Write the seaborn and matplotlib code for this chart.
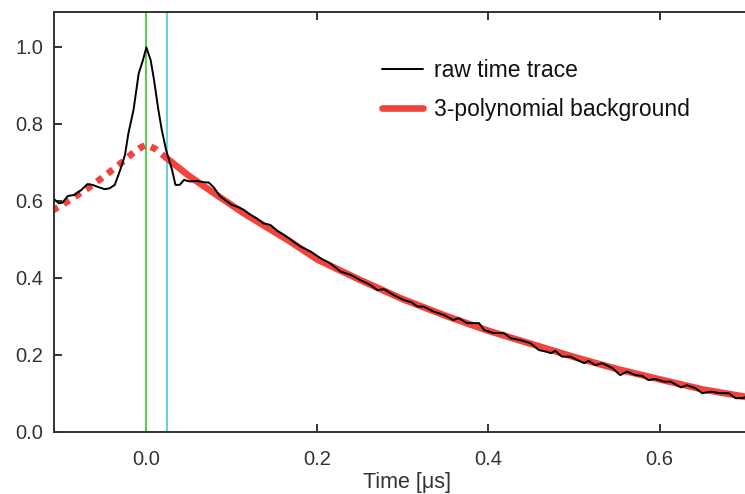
import numpy as np
import pandas as pd
import matplotlib
matplotlib.use('Agg')
import matplotlib.pyplot as plt
import seaborn as sns

# raw time trace (time in us, normalised signal)
trace_t = [-0.108, -0.102, -0.098, -0.092, -0.084, -0.076, -0.069, -0.063, -0.057, -0.049,
           -0.043, -0.037, -0.032, -0.028, -0.025, -0.021, -0.015, -0.009, -0.004, 0.0,
           0.005, 0.009, 0.014, 0.018, 0.023, 0.030, 0.034, 0.039, 0.044, 0.050,
           0.059, 0.067, 0.073, 0.079, 0.086, 0.093, 0.100, 0.108, 0.114, 0.122,
           0.129, 0.137, 0.145, 0.153, 0.161, 0.168, 0.180, 0.192, 0.204, 0.215,
           0.227, 0.239, 0.250, 0.262, 0.270, 0.278, 0.289, 0.301, 0.310, 0.317,
           0.324, 0.336, 0.348, 0.359, 0.365, 0.375, 0.389, 0.395, 0.406, 0.418,
           0.426, 0.437, 0.449, 0.459, 0.467, 0.473, 0.478, 0.486, 0.496, 0.504,
           0.512, 0.517, 0.525, 0.533, 0.545, 0.554, 0.562, 0.572, 0.580, 0.587,
           0.595, 0.605, 0.613, 0.625, 0.632, 0.642, 0.650, 0.660, 0.671, 0.681,
           0.689, 0.697, 0.702]
trace_v = [0.604, 0.593, 0.595, 0.612, 0.615, 0.628, 0.643, 0.641, 0.636, 0.630,
           0.632, 0.641, 0.671, 0.697, 0.719, 0.775, 0.836, 0.930, 0.965, 0.998,
           0.965, 0.913, 0.836, 0.784, 0.732, 0.680, 0.641, 0.641, 0.654, 0.650,
           0.651, 0.648, 0.647, 0.634, 0.612, 0.600, 0.589, 0.583, 0.576, 0.563,
           0.554, 0.541, 0.537, 0.522, 0.511, 0.500, 0.481, 0.468, 0.450, 0.437,
           0.416, 0.407, 0.394, 0.381, 0.368, 0.370, 0.355, 0.342, 0.336, 0.325,
           0.325, 0.312, 0.303, 0.290, 0.295, 0.282, 0.282, 0.264, 0.256, 0.256,
           0.243, 0.238, 0.230, 0.212, 0.208, 0.204, 0.210, 0.195, 0.195, 0.186,
           0.178, 0.184, 0.173, 0.178, 0.165, 0.147, 0.156, 0.147, 0.145, 0.134,
           0.137, 0.130, 0.130, 0.115, 0.121, 0.113, 0.100, 0.104, 0.100, 0.100,
           0.087, 0.087, 0.091]

# 3-polynomial background: dotted part (extrapolated) and solid part (fitted)
bg_dot_t = [-0.110, -0.090, -0.070, -0.050, -0.030, -0.015, -0.005, 0.0, 0.010, 0.024]
bg_dot_v = [0.574, 0.601, 0.630, 0.662, 0.697, 0.725, 0.740, 0.745, 0.735, 0.710]
bg_sol_t = [0.024, 0.050, 0.080, 0.114, 0.168, 0.200, 0.250, 0.300, 0.350, 0.400,
            0.450, 0.500, 0.550, 0.600, 0.650, 0.702]
bg_sol_v = [0.710, 0.664, 0.618, 0.567, 0.494, 0.447, 0.394, 0.344, 0.301, 0.262,
            0.228, 0.194, 0.163, 0.136, 0.110, 0.090]

t_start = 0.0
t_end = 0.024

sns.set_style('white')
plt.rcParams['font.family'] = ['Liberation Sans', 'DejaVu Sans']
ink = '#333333'
red = '#f0443c'

fig = plt.figure(figsize=(7.45, 4.94), dpi=100)
ax = fig.add_axes([54/745, 1-431.7/494, 693/745, 419.7/494])

ax.axvline(t_start, color='#62c956', lw=1.5, zorder=1)
ax.axvline(t_end, color='#6fcbe6', lw=1.5, zorder=1)

dot = pd.DataFrame({'t': bg_dot_t, 'v': bg_dot_v})
sol = pd.DataFrame({'t': bg_sol_t, 'v': bg_sol_v})
raw = pd.DataFrame({'t': trace_t, 'v': trace_v})

sns.lineplot(data=dot, x='t', y='v', color=red, lw=4.8, ls=(0, (1.0, 1.0)),
             estimator=None, sort=False, ax=ax, zorder=2)
sns.lineplot(data=sol, x='t', y='v', color=red, lw=4.8, estimator=None, sort=False,
             ax=ax, zorder=2, label='3-polynomial background')
sns.lineplot(data=raw, x='t', y='v', color='black', lw=1.4, estimator=None, sort=False,
             ax=ax, zorder=3, label='raw time trace')

ax.set_xlim(-0.108, 0.7023)
ax.set_ylim(0, 1.09)
ax.set_xticks([0.0, 0.2, 0.4, 0.6])
ax.set_yticks([0.0, 0.2, 0.4, 0.6, 0.8, 1.0])
ax.set_xlabel('Time [μs]', fontsize=15.5, color=ink)
ax.xaxis.set_label_coords(0.51, -0.097)
ax.set_ylabel('')

for s in ax.spines.values():
    s.set_color(ink)
    s.set_linewidth(1.4)
ax.tick_params(direction='in', length=6, width=1.4, color=ink, labelcolor=ink,
               labelsize=14.5, top=True, right=False, bottom=True, left=True)
ax.tick_params(axis='x', pad=13)
ax.tick_params(axis='y', pad=8)

h, l = ax.get_legend_handles_labels()
leg = ax.legend(h[::-1], l[::-1], loc='upper left', bbox_to_anchor=(0.4735, 0.888),
                frameon=False, fontsize=16.5, handlelength=1.8, handletextpad=0.45,
                labelspacing=0.7, borderpad=0, borderaxespad=0)
for txt in leg.get_texts():
    txt.set_color('#111111')

fig.savefig('out.png', dpi=100)
